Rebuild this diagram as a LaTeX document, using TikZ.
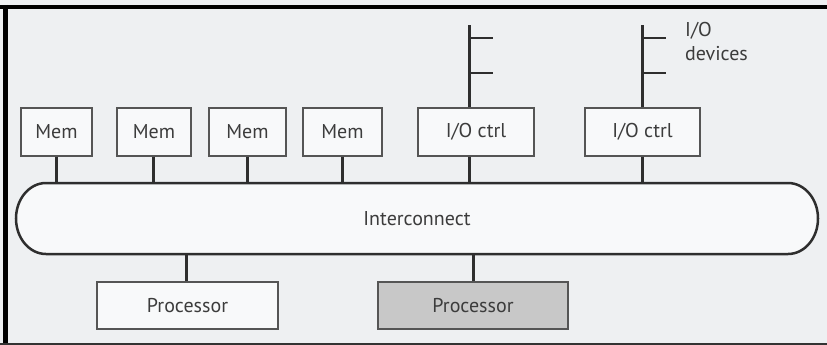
\documentclass[tikz,border=0pt]{standalone}
\usepackage{fontspec}
\setmainfont{PT Sans}
\definecolor{bg}{HTML}{EEF0F2}
\definecolor{boxline}{HTML}{555555}
\definecolor{wire}{HTML}{2E2E2E}
\definecolor{txt}{HTML}{3C3C3C}
\definecolor{procfill}{HTML}{C8C8C8}
\begin{document}
\begin{tikzpicture}[x=1pt,y=-1pt,
  unit/.style={draw=boxline, line width=1.3pt, fill=white!60!bg, minimum height=48pt, inner sep=0pt, text=txt, font=\fontsize{20}{23}\selectfont},
  wire/.style={draw=wire, line width=3pt},
  tick/.style={draw=wire, line width=2.6pt}]
\useasboundingbox (0,0) rectangle (827,345);
\fill[bg] (0,0) rectangle (827,345);
\draw[black, line width=4pt] (0,7) -- (827,7);
\draw[black, line width=5pt] (5.5,5) -- (5.5,345);
\draw[black!80, line width=2pt] (0,344) -- (827,344);
% interconnect
\node[minimum width=802pt, minimum height=71pt, inner sep=0pt, outer sep=0pt, text=txt, font=\fontsize{20}{23}\selectfont] (ic) at (417,218.5) {};
\draw[draw=wire, line width=2.5pt, fill=white!60!bg]
  ([xshift=30pt]ic.north west) -- ([xshift=-30pt]ic.north east)
  arc[start angle=90, end angle=-90, x radius=30pt, y radius=35.5pt]
  -- ([xshift=30pt]ic.south west)
  arc[start angle=270, end angle=90, x radius=30pt, y radius=35.5pt] -- cycle;
\node[text=txt, font=\fontsize{20}{23}\selectfont, inner sep=0pt] (ict) at (ic.center) {Interconnect};
% memory modules
\node[unit, minimum width=71pt] (m1) at (56.5,132) {Mem};
\node[unit, minimum width=74pt] (m2) at (154,132) {Mem};
\node[unit, minimum width=77pt] (m3) at (247.5,132) {Mem};
\node[unit, minimum width=79pt] (m4) at (342.5,132) {Mem};
% io controllers
\node[unit, minimum width=116pt] (io1) at (476,132) {I/O ctrl};
\node[unit, minimum width=115pt] (io2) at (642.5,132) {I/O ctrl};
% processors
\node[unit, minimum width=181pt, minimum height=47pt] (p1) at (187.5,305.5) {Processor};
\node[unit, minimum width=190pt, minimum height=47pt, fill=procfill] (p2) at (473,305.5) {Processor};
% connectors to interconnect
\foreach \n/\x in {m1/56, m2/153, m3/247, m4/342, io1/469, io2/642}{
  \draw[wire] (\n.south -| \x,0) -- (ic.north -| \x,0);
}
\draw[wire] (p1.north -| 186,0) -- (ic.south -| 186,0);
\draw[wire] (p2.north -| 473,0) -- (ic.south -| 473,0);
% io device buses
\coordinate (t1) at (469,25);
\coordinate (t2) at (642,25);
\draw[wire] (io1.north -| t1) -- (t1);
\draw[wire] (io2.north -| t2) -- (t2);
\coordinate (a1) at (469,38); \coordinate (a1e) at (493,38);
\coordinate (b1) at (469,73); \coordinate (b1e) at (493,73);
\coordinate (a2) at (642,38); \coordinate (a2e) at (666,38);
\coordinate (b2) at (642,73); \coordinate (b2e) at (666,73);
\draw[tick] (a1) -- (a1e);
\draw[tick] (b1) -- (b1e);
\draw[tick] (a2) -- (a2e);
\draw[tick] (b2) -- (b2e);
\node[anchor=north west, align=left, inner sep=0pt, text=txt, font=\fontsize{20}{24}\selectfont] (dev) at (685,22) {I/O\\devices};
\end{tikzpicture}
\end{document}
